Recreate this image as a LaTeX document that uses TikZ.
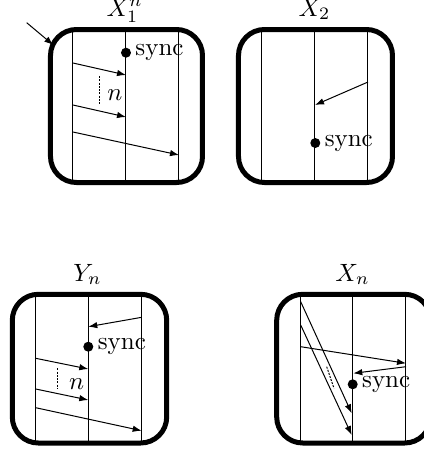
\documentclass[tikz,border=0pt]{standalone}
\usetikzlibrary{arrows.meta}
\begin{document}
\begin{tikzpicture}[x=0.4pt,y=-0.4pt,
 frame/.style={line width=2pt, rounded corners=10.4pt},
 life/.style={line width=0.4pt},
 msg/.style={-{Latex[length=3.6pt,width=2.6pt]}, line width=0.4pt},
 syncdot/.style={circle, fill, inner sep=0pt, minimum size=4pt},
 synclbl/.style={anchor=west, inner sep=0pt, xshift=3.6pt},
 ttl/.style={anchor=base west, inner sep=0pt},
 dots/.style={dash pattern=on 0.8pt off 0.5pt, line width=0.4pt},
]
\useasboundingbox (0,0) rectangle (424,455);

% ---------- Box 1: X_1^n ----------
\foreach \x in {73,126,179} \draw[life] (\x,29.5) -- (\x,182.5);
\draw[frame] (50.5,29.5) rectangle (202.5,182.5);
\node[ttl] (t1) at (106,16) {$X_1^n$};
\coordinate (in0) at (26.7,22.7);
\coordinate (in1) at (53.3,45);
\draw[msg] (in0) -- (in1);
\node[syncdot] (d1) at (126,52.7) {};
\node[synclbl] (s1) at (d1.center) {sync};
\coordinate (a1s) at (73,63);   \coordinate (a1e) at (126,75);
\coordinate (a2s) at (73,105);  \coordinate (a2e) at (126,117);
\coordinate (a3s) at (73,132);  \coordinate (a3e) at (179,155);
\draw[msg] (a1s) -- (a1e);
\draw[msg] (a2s) -- (a2e);
\draw[msg] (a3s) -- (a3e);
\coordinate (p1) at (99.5,76); \coordinate (p2) at (99.5,105);
\draw[dots] (p1) -- (p2);
\node (n1) at (115,95) {$n$};

% ---------- Box 2: X_2 ----------
\foreach \x in {262,315,368} \draw[life] (\x,29.5) -- (\x,182.5);
\draw[frame] (238.5,29.5) rectangle (392.5,182.5);
\node[ttl] (t2) at (298,16) {$X_2$};
\coordinate (b1s) at (368,82); \coordinate (b1e) at (315,105);
\draw[msg] (b1s) -- (b1e);
\node[syncdot] (d2) at (315.3,143) {};
\node[synclbl] (s2) at (d2.center) {sync};

% ---------- Box 3: Y_n ----------
\foreach \x in {35.7,88.3,141.7} \draw[life] (\x,294.3) -- (\x,443);
\draw[frame] (12.3,294.3) rectangle (166.7,443);
\node[ttl] (t3) at (73,281) {$Y_n$};
\coordinate (c0s) at (141.7,317.3); \coordinate (c0e) at (88.3,326.7);
\draw[msg] (c0s) -- (c0e);
\node[syncdot] (d3) at (88.3,346.7) {};
\node[synclbl] (s3) at (d3.center) {sync};
\coordinate (c1s) at (35.7,358.3); \coordinate (c1e) at (88.3,369);
\coordinate (c2s) at (35.7,389);   \coordinate (c2e) at (88.3,400);
\coordinate (c3s) at (35.7,407.7); \coordinate (c3e) at (141.7,430.7);
\draw[msg] (c1s) -- (c1e);
\draw[msg] (c2s) -- (c2e);
\draw[msg] (c3s) -- (c3e);
\coordinate (q1) at (57.7,368.3); \coordinate (q2) at (57.7,388.3);
\draw[dots] (q1) -- (q2);
\node (n3) at (76.7,384) {$n$};

% ---------- Box 4: X_n ----------
\foreach \x in {300.7,352.7,406} \draw[life] (\x,294.3) -- (\x,443);
\draw[frame] (276.7,294.3) rectangle (430.7,443);
\node[ttl] (t4) at (335,281) {$X_n$};
\coordinate (e1s) at (300.7,301.7); \coordinate (e1e) at (351.7,413.3);
\coordinate (e2s) at (300.7,325);   \coordinate (e2e) at (351.7,435);
\coordinate (e3s) at (300.7,346.7); \coordinate (e3e) at (406,363.3);
\coordinate (e4s) at (406,366.7);   \coordinate (e4e) at (353.3,373.3);
\draw[msg] (e1s) -- (e1e);
\draw[msg] (e2s) -- (e2e);
\draw[msg] (e3s) -- (e3e);
\draw[msg] (e4s) -- (e4e);
\coordinate (r1) at (326.7,366.7); \coordinate (r2) at (334,388.3);
\draw[dots] (r1) -- (r2);
\node[syncdot] (d4) at (352.7,384.3) {};
\node[synclbl] (s4) at (d4.center) {sync};
\end{tikzpicture}
\end{document}
